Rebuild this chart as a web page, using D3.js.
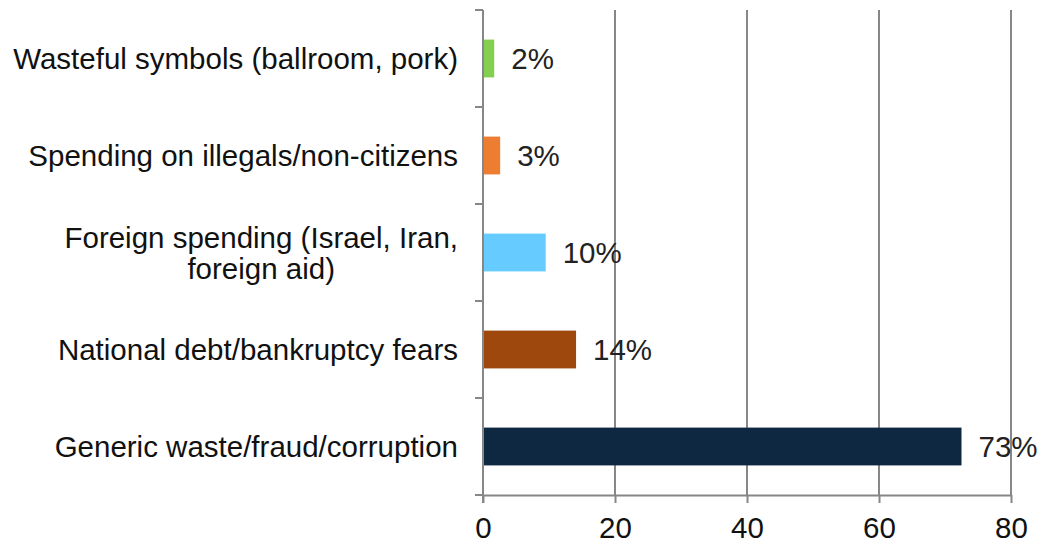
<!DOCTYPE html>
<html>
<head>
<meta charset="utf-8">
<script src="https://cdn.jsdelivr.net/npm/d3@7.9.0/dist/d3.min.js"></script>
<style>
  html, body { margin: 0; padding: 0; background: #fff; }
  svg { display: block; font-family: "Liberation Sans", Arial, sans-serif; }
</style>
</head>
<body>
<svg id="chart" width="1056" height="541"></svg>
<script>
// Data, top to bottom as drawn
const categories = [
  ['Wasteful symbols (ballroom, pork)'],
  ['Spending on illegals/non-citizens'],
  ['Foreign spending (Israel, Iran,', 'foreign aid)'],
  ['National debt/bankruptcy fears'],
  ['Generic waste/fraud/corruption']
];
const values = [1.7, 2.6, 9.5, 14.1, 72.5];
const valueLabels = ['2%', '3%', '10%', '14%', '73%'];
const barColors = ['#84cf4f', '#ed7d31', '#66ccff', '#9e480e', '#0e2841'];
const xTicks = [0, 20, 40, 60, 80];

const svg = d3.select('#chart');
const margin = { left: 483, right: 45, top: 10, bottom: 46 };
const width = 1056, height = 541;
const fontSize = 29.5;
const gridColor = '#878787';

const x = d3.scaleLinear().domain([0, 80]).range([margin.left, width - margin.right]);
const y = d3.scaleBand()
  .domain(d3.range(categories.length))
  .range([margin.top, height - margin.bottom])
  .paddingInner(0.61).paddingOuter(0.305);

// full bands for tick marks at category boundaries
const yBands = d3.scaleBand()
  .domain(d3.range(categories.length))
  .range([margin.top, height - margin.bottom]);

// vertical gridlines
svg.append('g')
  .selectAll('line')
  .data(xTicks.slice(1))
  .join('line')
  .attr('x1', d => x(d)).attr('x2', d => x(d))
  .attr('y1', margin.top).attr('y2', height - margin.bottom)
  .attr('stroke', gridColor).attr('stroke-width', 2);

// bars
svg.append('g')
  .selectAll('rect')
  .data(values)
  .join('rect')
  .attr('x', x(0))
  .attr('y', (d, i) => y(i))
  .attr('width', d => x(d) - x(0))
  .attr('height', y.bandwidth())
  .attr('fill', (d, i) => barColors[i]);

// bottom axis
const xAxis = svg.append('g')
  .attr('transform', `translate(0,${height - margin.bottom})`)
  .call(d3.axisBottom(x).tickValues(xTicks).tickSize(8).tickSizeOuter(0).tickPadding(14));
xAxis.select('.domain').attr('stroke', gridColor).attr('stroke-width', 2);
xAxis.selectAll('.tick line').attr('stroke', gridColor).attr('stroke-width', 2);
xAxis.selectAll('.tick text')
  .attr('font-size', fontSize).attr('fill', '#111')
  .attr('font-family', '"Liberation Sans", Arial, sans-serif');

// left axis line and boundary ticks
const yAxis = svg.append('g');
yAxis.append('line')
  .attr('x1', x(0)).attr('x2', x(0))
  .attr('y1', margin.top).attr('y2', height - margin.bottom + 8)
  .attr('stroke', gridColor).attr('stroke-width', 2);
yAxis.selectAll('line.tk')
  .data(d3.range(categories.length + 1))
  .join('line')
  .attr('class', 'tk')
  .attr('x1', x(0) - 8).attr('x2', x(0))
  .attr('y1', d => margin.top + d * yBands.step())
  .attr('y2', d => margin.top + d * yBands.step())
  .attr('stroke', gridColor).attr('stroke-width', 2);

// category labels
const lineH = 31;
const catG = svg.append('g').attr('font-size', fontSize).attr('fill', '#111');
categories.forEach((lines, i) => {
  const cy = yBands(i) + yBands.bandwidth() / 2;
  const t = catG.append('text')
    .attr('dominant-baseline', 'central');
  if (lines.length === 1) {
    t.attr('x', x(0) - 25).attr('y', cy).attr('text-anchor', 'end').text(lines[0]);
  } else {
    // wrapped labels are centred on the longest line
    const probe = catG.append('text').text(lines[0]);
    const w = probe.node().getComputedTextLength();
    probe.remove();
    const cx = x(0) - 25 - w / 2;
    t.attr('text-anchor', 'middle');
    lines.forEach((ln, j) => {
      t.append('tspan')
        .attr('x', cx)
        .attr('y', cy + (j - (lines.length - 1) / 2) * lineH)
        .text(ln);
    });
  }
});

// value labels
svg.append('g')
  .selectAll('text')
  .data(values)
  .join('text')
  .attr('x', d => x(d) + 17)
  .attr('y', (d, i) => y(i) + y.bandwidth() / 2)
  .attr('dominant-baseline', 'central')
  .attr('font-size', fontSize)
  .attr('fill', '#222')
  .text((d, i) => valueLabels[i]);
</script>
</body>
</html>
